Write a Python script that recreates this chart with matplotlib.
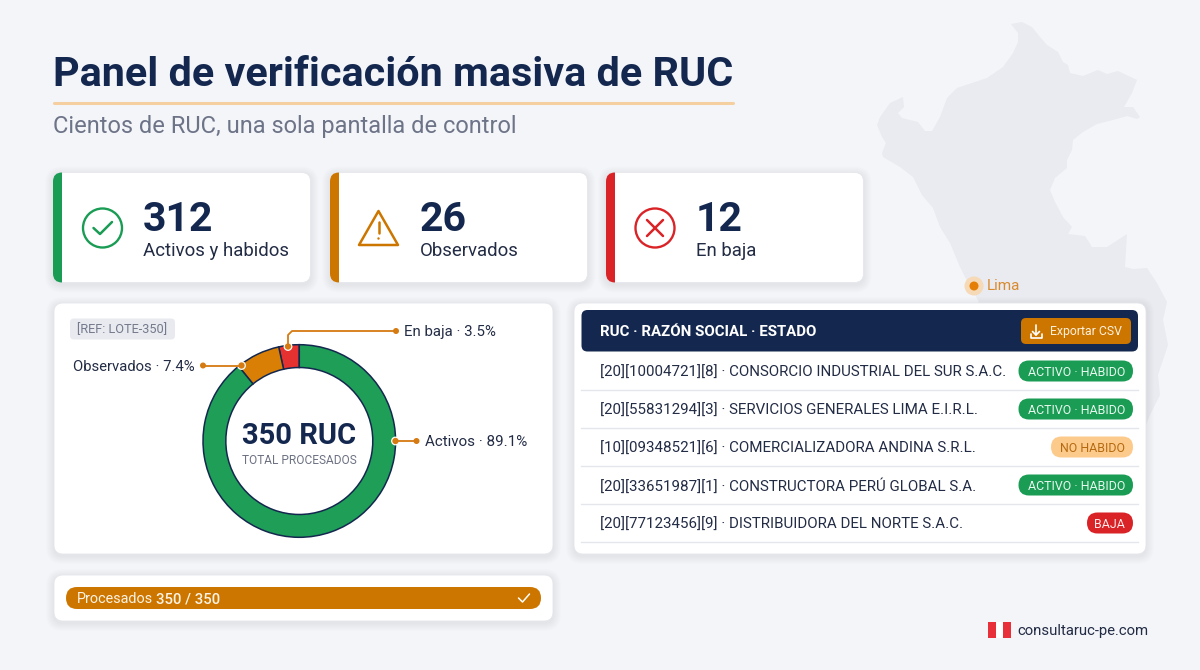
import matplotlib
matplotlib.use("Agg")
import matplotlib.pyplot as plt
from matplotlib.patches import FancyBboxPatch, Rectangle, Polygon, Circle

plt.rcParams['font.family'] = ['Roboto', 'DejaVu Sans']

NAVY = '#14284f'
GREEN = '#1a9c55'
ORANGE = '#cc7600'
RED = '#d92327'
INK = '#232c45'

# datos
kpi_values = ['312', '26', '12']
kpi_labels = ['Activos y habidos', 'Observados', 'En baja']
kpi_colors = [GREEN, ORANGE, RED]

donut_labels = ['En baja · 3.5%', 'Observados · 7.4%', 'Activos · 89.1%']
donut_values = [12, 26, 312]
donut_colors = ['#e5312f', '#d97f06', '#1e9e57']

ruc_codes = ['[20][10004721][8]', '[20][55831294][3]', '[10][09348521][6]',
             '[20][33651987][1]', '[20][77123456][9]']
razones = ['CONSORCIO INDUSTRIAL DEL SUR S.A.C.', 'SERVICIOS GENERALES LIMA E.I.R.L.',
           'COMERCIALIZADORA ANDINA S.R.L.', 'CONSTRUCTORA PERÚ GLOBAL S.A.',
           'DISTRIBUIDORA DEL NORTE S.A.C.']
estados = ['ACTIVO · HABIDO', 'ACTIVO · HABIDO', 'NO HABIDO', 'ACTIVO · HABIDO', 'BAJA']

procesados = 350
total = 350

# silueta del mapa (px de la imagen)
mapa_x = [1011, 1022, 1032, 1040, 1047, 1058, 1063, 1068, 1070, 1083, 1098, 1107, 1118, 1137,
          1132, 1124, 1133, 1140, 1137, 1127, 1113, 1097, 1083, 1073, 1072, 1067, 1067, 1055,
          1050, 1055, 1063, 1072, 1068, 1085, 1092, 1107, 1127, 1125, 1133, 1147, 1157, 1167,
          1163, 1168, 1158, 1160, 1150, 1146, 1140, 1000, 983, 978, 965, 960, 950, 940, 933,
          922, 913, 900, 883, 882, 886, 882, 877, 880, 890, 903, 904, 898, 902,
          918, 925, 932, 940, 947, 957, 987, 1003, 1013, 1018, 1018]
mapa_y = [24, 22, 27, 37, 45, 52, 62, 65, 73, 76, 70, 74, 71, 80,
          93, 107, 107, 117, 119, 116, 120, 124, 132, 140, 150, 160, 168, 178,
          190, 202, 217, 227, 234, 236, 247, 247, 234, 267, 269, 268, 283, 302,
          320, 345, 375, 395, 415, 425, 500, 500, 320, 300, 277, 267, 243, 227, 208,
          195, 177, 167, 157, 153, 143, 137, 125, 117, 103, 97, 107, 113, 118,
          122, 131, 131, 117, 98, 88, 78, 67, 53, 42, 33]

fig = plt.figure(figsize=(12, 6.7), dpi=100, facecolor='#f4f5f9')
ax = fig.add_axes([0, 0, 1, 1], zorder=0)
ax.set_xlim(0, 1200)
ax.set_ylim(670, 0)
ax.axis('off')
top = fig.add_axes([0, 0, 1, 1], zorder=2)
top.set_xlim(0, 1200)
top.set_ylim(670, 0)
top.axis('off')


def rrect(a, x0, y0, x1, y1, r, **kw):
    p = FancyBboxPatch((x0, y0), x1 - x0, y1 - y0, boxstyle=f'round,pad=0,rounding_size={r}',
                       linewidth=kw.pop('lw', 0), **kw)
    a.add_patch(p)
    return p


def card(x0, y0, x1, y1, r=9):
    for i in range(8, 0, -1):
        rrect(ax, x0 - i, y0 - i + 2, x1 + i, y1 + i + 2, r + i, facecolor='#20284a', alpha=0.008)
    return rrect(ax, x0, y0, x1, y1, r, facecolor='white', edgecolor='#e6e7ec', lw=0.6)


ax.add_patch(Polygon(list(zip(mapa_x, mapa_y)), closed=True, facecolor='#eaebf0', edgecolor='none'))

# Titulo
top.text(53, 75.5, 'Panel de verificación masiva de RUC', fontsize=29.8, fontweight='bold',
         color=NAVY, va='center')
top.plot([54, 733], [102.5, 102.5], color='#f5cfa0', lw=2.2, solid_capstyle='round')
top.text(53, 127, 'Cientos de RUC, una sola pantalla de control', fontsize=17.05, color='#6d7488', va='center')

# Lima
top.add_patch(Circle((974, 286), 9.5, facecolor='#f6d9b6', edgecolor='none'))
top.add_patch(Circle((974, 286), 4.5, facecolor='#e57e06', edgecolor='none'))
top.text(987, 285.5, 'Lima', fontsize=11, color='#d88a2e', va='center')

# KPI
kpi_x = [53, 330, 606]
for i in range(3):
    x0 = kpi_x[i]
    c = card(x0, 172.5, x0 + 257.5, 282.5)
    strip = Rectangle((x0, 172), 9, 111, facecolor=kpi_colors[i], edgecolor='none')
    ax.add_patch(strip)
    strip.set_clip_path(c)
    top.text(x0 + 90, 231, kpi_values[i], fontsize=29.5, fontweight='bold', color=NAVY, va='baseline')
    top.text(x0 + 90, 256, kpi_labels[i], fontsize=13.4, color=INK, va='baseline')

# iconos
top.add_patch(Circle((102.5, 228), 19.5, facecolor='none', edgecolor=GREEN, lw=1.7))
top.plot([93.5, 100, 112], [228, 234, 222], color=GREEN, lw=1.8, solid_capstyle='round', solid_joinstyle='round')
top.add_patch(Polygon([(378.5, 211), (398, 245), (359, 245)], closed=True, facecolor='none',
                      edgecolor=ORANGE, lw=1.8, joinstyle='round'))
top.plot([378.5, 378.5], [222, 233], color=ORANGE, lw=1.8, solid_capstyle='round')
top.add_patch(Circle((378.5, 238.5), 1.2, facecolor=ORANGE, edgecolor='none'))
top.add_patch(Circle((655, 228), 19.5, facecolor='none', edgecolor=RED, lw=1.7))
top.plot([647, 663], [220, 236], color=RED, lw=1.8, solid_capstyle='round')
top.plot([663, 647], [220, 236], color=RED, lw=1.8, solid_capstyle='round')

# Dona
card(54, 303, 553, 554)
rrect(ax, 70, 318.5, 175, 339.5, 4, facecolor='#e9eaef')
top.text(77, 333.5, '[REF: LOTE-350]', fontsize=9.2, color='#747a8c', va='baseline')

cx, cy, R = 299.3, 441, 96.3
dax = fig.add_axes([(cx - R) / 1200, 1 - (cy + R) / 670, 2 * R / 1200, 2 * R / 670], zorder=1)
dax.pie(donut_values, colors=donut_colors, startangle=90, counterclock=True, radius=1,
        wedgeprops={'width': 0.237, 'edgecolor': NAVY, 'linewidth': 1.1})
dax.set_xlim(-1, 1)
dax.set_ylim(-1, 1)
for w in dax.patches:
    w.set_clip_on(False)

top.text(299, 443.5, '350 RUC', fontsize=21, fontweight='bold', color=NAVY, ha='center', va='baseline')
top.text(299, 463.5, 'TOTAL PROCESADOS', fontsize=8.6, color='#6d7283', ha='center', va='baseline')

lead = '#d67a12'
top.plot([288, 288, 292, 396], [346.5, 335, 331, 331], color=lead, lw=1.3, solid_joinstyle='round')
top.plot([203, 241.5], [365.5, 365.5], color=lead, lw=1.3)
top.plot([396, 416], [441, 441], color=lead, lw=1.3)
for px, py in [(288, 346.5), (241.5, 365.5), (395.5, 441)]:
    top.add_patch(Circle((px, py), 3.8, facecolor=lead, edgecolor='white', lw=0.9))
for px, py in [(396, 331), (203, 365.5), (416.5, 441)]:
    top.add_patch(Circle((px, py), 3, facecolor=lead, edgecolor='none'))
top.text(404, 336.3, donut_labels[0], fontsize=10.8, color=INK, va='baseline')
top.text(73, 370.8, donut_labels[1], fontsize=10.7, color=INK, va='baseline')
top.text(425, 446.3, donut_labels[2], fontsize=10.9, color=INK, va='baseline')

# Progreso
card(54, 575, 553, 621)
bar_x0, bar_x1 = 66, 541
rrect(ax, bar_x0, 587, bar_x0 + (bar_x1 - bar_x0) * procesados / total, 609, 11, facecolor=ORANGE)
top.text(77, 603.3, 'Procesados', fontsize=10.4, color='#fdf3e4', va='baseline')
top.text(156, 603.3, f'{procesados} / {total}', fontsize=10.7, color='#fdf3e4', va='baseline', fontweight='medium')
top.plot([518.5, 522.5, 529.5], [598, 602, 594], color='white', lw=1.1, solid_capstyle='round')

# Tabla
card(574, 303, 1146, 554)
rrect(ax, 581.5, 310, 1138, 351.5, 6, facecolor=NAVY)
top.text(600.5, 336.5, 'RUC · RAZÓN SOCIAL · ESTADO', fontsize=10.85, fontweight='bold', color='white', va='baseline')
rrect(ax, 1021, 318, 1131, 344, 5, facecolor=ORANGE)
top.text(1049.5, 335.5, 'Exportar CSV', fontsize=8.8, color='#fdf0dd', va='baseline')
# icono descarga
top.plot([1036, 1036], [325, 335], color='white', lw=1.2, solid_capstyle='round')
top.plot([1032.5, 1036, 1039.5], [331.5, 335, 331.5], color='white', lw=1.2, solid_capstyle='round')
top.plot([1030.5, 1030.5, 1041.5, 1041.5], [334, 337.5, 337.5, 334], color='white', lw=1.2, solid_capstyle='round')

badge_style = {
    'ACTIVO · HABIDO': (1018.5, GREEN, '#e8f7ee'),
    'NO HABIDO': (1051, '#fccb8c', '#b56a10'),
    'BAJA': (1087, RED, '#fde9e9'),
}
for i in range(len(ruc_codes)):
    y = 371 + 38 * i
    top.text(600.5, y + 5.5, f'{ruc_codes[i]} · {razones[i]}', fontsize=10.9, color=INK, va='baseline')
    ax.plot([581, 1138], [y + 19, y + 19], color='#e5e6eb', lw=1)
    bx, bc, tc = badge_style[estados[i]]
    rrect(ax, bx, y - 10.5, 1133, y + 10.5, 10.5, facecolor=bc)
    top.text(1125, y + 4.5, estados[i], fontsize=8.9, color=tc, va='baseline', ha='right')

# Pie
ax.add_patch(Rectangle((988, 622), 8, 16, facecolor='#e8303a', edgecolor='none'))
ax.add_patch(Rectangle((996, 622), 7, 16, facecolor='white', edgecolor='none'))
ax.add_patch(Rectangle((1003, 622), 8, 16, facecolor='#e8303a', edgecolor='none'))
top.text(1017, 635.5, 'consultaruc-pe.com', fontsize=10.7, color=INK, va='baseline')

fig.savefig('out.png', dpi=100, facecolor=fig.get_facecolor())
